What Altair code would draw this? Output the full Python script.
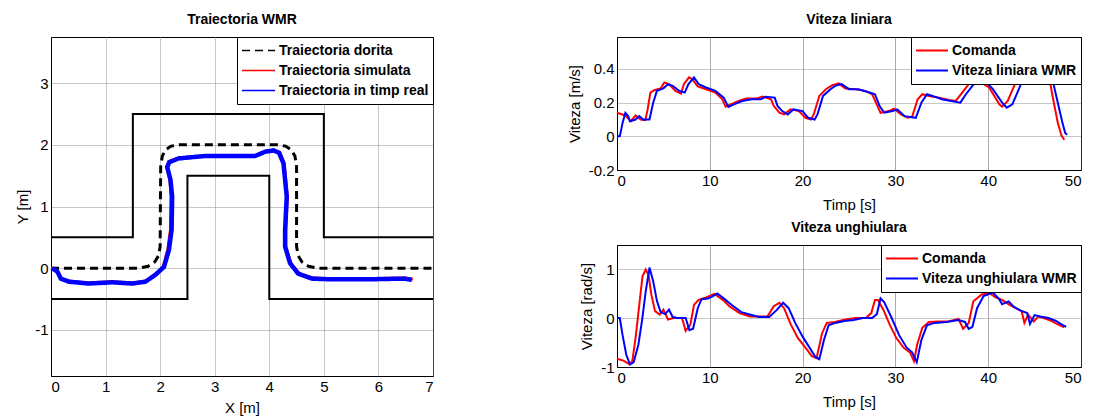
import altair as alt
import pandas as pd

FONT = "Liberation Sans"

# ---------------- Left panel: trajectories ----------------
outer_x = [0, 1.5, 1.5, 5.0, 5.0, 7.0]
outer_y = [0.5, 0.5, 2.5, 2.5, 0.5, 0.5]
inner_x = [0, 2.5, 2.5, 4.0, 4.0, 7.0]
inner_y = [-0.5, -0.5, 1.5, 1.5, -0.5, -0.5]

desired_x = [0, 1.6, 1.78, 1.9, 1.97, 2.0, 2.01, 2.04, 2.1, 2.2, 2.35, 4.15, 4.3, 4.4, 4.47, 4.5,
             4.5, 4.53, 4.6, 4.72, 4.9, 7.0]
desired_y = [0, 0, 0.03, 0.1, 0.2, 0.35, 1.65, 1.82, 1.92, 1.98, 2.0, 2.0, 1.98, 1.92, 1.82, 1.65,
             0.35, 0.2, 0.1, 0.03, 0, 0]

real_x = [0.02, 0.12, 0.18, 0.33, 0.69, 1.12, 1.49, 1.73, 1.91, 2.07, 2.16, 2.21, 2.22, 2.19, 2.13,
          2.17, 2.34, 2.83, 3.74, 3.93, 4.08, 4.18, 4.26, 4.32, 4.29, 4.29, 4.38, 4.53, 4.78, 5.08,
          5.87, 6.48, 6.61]
real_y = [0.0, -0.06, -0.17, -0.22, -0.25, -0.23, -0.25, -0.22, -0.11, 0.02, 0.29, 0.62, 1.16, 1.43,
          1.64, 1.72, 1.78, 1.82, 1.82, 1.89, 1.91, 1.87, 1.70, 1.16, 0.62, 0.35, 0.08, -0.09, -0.17,
          -0.18, -0.18, -0.17, -0.19]

sim_x = [0.0, 0.11, 0.17, 0.32, 0.68, 1.12, 1.49, 1.74, 1.92, 2.06, 2.14, 2.19, 2.2, 2.18, 2.12,
         2.16, 2.34, 2.83, 3.74, 3.93, 4.08, 4.19, 4.27, 4.33, 4.30, 4.30, 4.40, 4.55, 4.80, 5.08,
         5.87, 6.48, 6.63]
sim_y = [0.0, -0.05, -0.16, -0.21, -0.24, -0.22, -0.24, -0.21, -0.10, 0.03, 0.30, 0.62, 1.16, 1.43,
         1.64, 1.73, 1.79, 1.82, 1.82, 1.89, 1.91, 1.88, 1.70, 1.16, 0.62, 0.35, 0.07, -0.09, -0.16,
         -0.17, -0.17, -0.16, -0.18]

traj_names = ["Traiectoria dorita", "Traiectoria simulata", "Traiectoria in timp real"]

# ---------------- Right top: linear velocity ----------------
t_v_cmd = [0, 0.9, 1.5, 2.0, 2.55, 3.05, 3.3, 3.6, 4.0, 4.7, 5.1, 5.6, 6.3, 6.9, 7.2, 7.76, 8.1, 8.7,
           9.6, 10.6, 11.35, 11.7, 12.25, 13.1, 13.9, 15.0, 15.7, 16.6, 16.9, 17.5, 18.0, 18.7, 19.6,
           20.3, 20.9, 21.2, 21.8, 22.5, 23.2, 23.9, 24.6, 25.7, 26.8, 27.5, 27.9, 28.4, 29.3, 29.85,
           30.6, 31.3, 31.8, 32.4, 32.9, 33.6, 34.7, 35.8, 36.5, 37.2, 37.9, 39.0, 39.5, 40.1, 41.2,
           41.5, 42.1, 42.8, 43.1, 44.0, 45.0, 46.0, 46.6, 47.0, 47.5, 47.9, 48.2]
v_cmd = [0.14, 0.124, 0.09, 0.124, 0.10, 0.096, 0.16, 0.26, 0.274, 0.284, 0.32, 0.31, 0.27, 0.254,
         0.31, 0.35, 0.34, 0.296, 0.28, 0.26, 0.22, 0.176, 0.19, 0.21, 0.224, 0.224, 0.236, 0.22,
         0.18, 0.14, 0.13, 0.16, 0.15, 0.11, 0.10, 0.13, 0.24, 0.28, 0.304, 0.314, 0.284, 0.28, 0.27,
         0.25, 0.20, 0.14, 0.15, 0.164, 0.13, 0.11, 0.116, 0.22, 0.25, 0.24, 0.23, 0.216, 0.21, 0.26,
         0.31, 0.36, 0.31, 0.29, 0.19, 0.176, 0.21, 0.30, 0.34, 0.38, 0.42, 0.40, 0.34, 0.22, 0.08,
         0.004, -0.02]

t_v_wmr = [0, 0.3, 0.6, 0.9, 1.2, 1.4, 2.0, 2.4, 2.8, 3.5, 3.9, 4.3, 5.0, 5.5, 6.0, 6.7, 7.3, 7.7,
           8.3, 8.8, 9.6, 10.6, 11.5, 12.0, 12.6, 13.5, 14.5, 15.5, 16.0, 17.0, 17.3, 17.8, 18.4,
           19.0, 20.0, 20.6, 21.3, 21.6, 22.2, 23.0, 23.5, 24.2, 25.0, 26.0, 27.2, 27.8, 28.3, 28.8,
           29.7, 30.2, 31.0, 32.2, 32.8, 33.4, 34.0, 35.0, 36.0, 37.0, 37.6, 38.3, 39.2, 40.0, 40.5,
           41.5, 42.0, 42.6, 43.3, 43.6, 44.5, 45.5, 46.5, 47.0, 47.5, 48.0, 48.3, 48.5]
v_wmr = [0.0, 0.0, 0.08, 0.14, 0.12, 0.09, 0.10, 0.12, 0.10, 0.10, 0.20, 0.27, 0.285, 0.31, 0.30,
         0.27, 0.26, 0.31, 0.35, 0.31, 0.29, 0.27, 0.23, 0.175, 0.19, 0.21, 0.22, 0.22, 0.235, 0.23,
         0.18, 0.15, 0.13, 0.16, 0.15, 0.11, 0.10, 0.13, 0.24, 0.28, 0.30, 0.31, 0.28, 0.28, 0.26,
         0.25, 0.18, 0.14, 0.15, 0.16, 0.12, 0.11, 0.20, 0.25, 0.24, 0.22, 0.21, 0.20, 0.25, 0.30,
         0.36, 0.31, 0.28, 0.20, 0.17, 0.19, 0.28, 0.32, 0.39, 0.42, 0.39, 0.32, 0.20, 0.08, 0.02,
         0.01]

vlin_names = ["Comanda", "Viteza liniara WMR"]

# ---------------- Right bottom: angular velocity ----------------
t_w_cmd = [0, 0.7, 1.3, 1.65, 2.0, 2.4, 2.75, 3.1, 3.4, 3.7, 4.1, 4.6, 5.0, 5.5, 6.1, 7.0, 7.4,
           7.9, 8.3, 8.8, 9.6, 10.5, 11.4, 12.1, 13.2, 14.3, 15.4, 16.2, 16.9, 17.5, 18.0, 18.75,
           19.5, 20.2, 21.0, 21.5, 22.1, 22.6, 23.5, 24.6, 25.7, 26.8, 27.4, 27.8, 28.1, 28.7, 29.4,
           30.1, 30.9, 31.6, 32.0, 32.35, 32.9, 33.6, 34.6, 35.7, 36.8, 37.1, 37.3, 37.9, 38.4, 39.3,
           40.1, 40.8, 41.5, 42.3, 43.0, 43.6, 43.9, 44.3, 44.9, 45.4, 46.0, 46.7, 47.4, 48.2]
w_cmd = [-0.83, -0.87, -0.94, -0.88, -0.41, 0.27, 0.85, 0.99, 0.88, 0.48, 0.14, 0.07, 0.17, -0.03,
         0.0, 0.0, -0.26, -0.14, 0.27, 0.37, 0.42, 0.49, 0.37, 0.24, 0.10, 0.03, 0.03, 0.03, 0.24,
         0.31, 0.20, -0.14, -0.41, -0.58, -0.78, -0.82, -0.31, -0.10, -0.08, -0.03, 0.0, 0.0, 0.10,
         0.37, 0.37, 0.17, -0.14, -0.41, -0.61, -0.71, -0.88, -0.54, -0.20, -0.08, -0.07, -0.07,
         -0.02, -0.14, -0.22, -0.10, 0.34, 0.48, 0.51, 0.42, 0.37, 0.27, 0.20, 0.14, -0.10, 0.07,
         -0.07, 0.03, 0.0, -0.05, -0.12, -0.19]

t_w_wmr = [0, 0.3, 0.6, 1.0, 1.4, 1.8, 2.3, 2.7, 3.1, 3.5, 3.9, 4.3, 4.7, 5.2, 5.6, 6.0, 6.5, 7.4,
           7.8, 8.2, 8.7, 9.1, 9.8, 10.3, 10.8, 11.5, 12.4, 13.4, 14.3, 15.3, 16.4, 17.2, 17.9, 18.5,
           19.2, 20.0, 20.8, 21.4, 21.8, 22.3, 22.8, 23.5, 24.5, 25.5, 26.5, 27.5, 28.0, 28.4, 28.8,
           29.6, 30.4, 31.2, 31.8, 32.3, 32.8, 33.4, 34.2, 35.5, 36.8, 37.5, 37.9, 38.3, 38.8, 39.5,
           40.5, 41.2, 41.5, 42.2, 42.8, 43.5, 44.2, 44.5, 45.0, 45.6, 46.5, 47.3, 47.9, 48.4]
w_wmr = [0.0, 0.0, -0.35, -0.75, -0.95, -0.90, -0.55, -0.05, 0.55, 1.03, 0.75, 0.35, 0.12, 0.08,
         0.17, 0.02, 0.0, 0.0, -0.25, -0.22, 0.20, 0.38, 0.40, 0.44, 0.50, 0.40, 0.26, 0.12, 0.07,
         0.02, 0.02, 0.16, 0.31, 0.20, -0.10, -0.38, -0.62, -0.80, -0.84, -0.45, -0.15, -0.10, -0.06,
         -0.04, 0.0, 0.0, 0.08, 0.40, 0.32, 0.0, -0.35, -0.60, -0.70, -0.90, -0.45, -0.15, -0.10,
         -0.08, -0.04, -0.08, -0.22, -0.18, 0.20, 0.45, 0.52, 0.38, 0.28, 0.34, 0.22, 0.15, 0.10,
         -0.12, 0.06, 0.03, 0.0, -0.06, -0.13, -0.18]

vang_names = ["Comanda", "Viteza unghiulara WMR"]

# ---------------- helpers ----------------
def frame(xs, ys, **extra):
    df = pd.DataFrame({"x": xs, "y": ys})
    df["i"] = range(len(df))
    for k, v in extra.items():
        df[k] = v
    return df

bounds_df = pd.concat([frame(outer_x, outer_y, part="outer"),
                       frame(inner_x, inner_y, part="inner")])
des_df = frame(desired_x, desired_y, traj=traj_names[0])
sim_df = frame(sim_x, sim_y, traj=traj_names[1])
real_df = frame(real_x, real_y, traj=traj_names[2])

LBL = "replace(format(datum.value, '~g'), '\u2212', '-')"
grid_light = dict(gridColor="#8f8f8f", gridDash=[1, 1], gridOpacity=1, gridWidth=1)

xL = alt.X("x:Q", title="X [m]", scale=alt.Scale(domain=[0, 7], nice=False),
           axis=alt.Axis(values=list(range(0, 8)), labelExpr=LBL, titlePadding=6, **grid_light))
yL = alt.Y("y:Q", title="Y [m]", scale=alt.Scale(domain=[-1.75, 3.75], nice=False),
           axis=alt.Axis(values=[-1, 0, 1, 2, 3], labelExpr=LBL, titlePadding=4, **grid_light))

legL = alt.Legend(title=None, orient="top-right", offset=0, fillColor="white",
                  strokeColor="black", padding=4, rowPadding=1, clipHeight=19,
                  symbolType="stroke", symbolSize=1089, symbolStrokeWidth=1.3,
                  labelFont=FONT, labelFontSize=14, labelFontWeight="bold",
                  labelColor="black", labelOffset=3, labelLimit=400, cornerRadius=0)
colL = alt.Color("traj:N", scale=alt.Scale(domain=traj_names, range=["black", "red", "blue"]),
                 legend=legL)
dashL = alt.StrokeDash("traj:N", scale=alt.Scale(domain=traj_names,
                       range=[[8, 5], [1, 0], [1, 0]]), legend=legL)

b_layer = alt.Chart(bounds_df).mark_line(color="black", strokeWidth=2).encode(
    x=xL, y=yL, detail="part:N", order="i:Q")
traj_layers = [
    alt.Chart(d).mark_line(strokeWidth=w).encode(x=xL, y=yL, color=colL, strokeDash=dashL,
                                                 order="i:Q")
    for d, w in ((des_df, 3), (sim_df, 3), (real_df, 4.5))
]
left = alt.layer(b_layer, *traj_layers).properties(
    width=382, height=339, title="Traiectoria WMR")


def vel_panel(t1, v1, t2, v2, names, field, ytitle, ydom, yvals, height, title):
    d1 = pd.DataFrame({"t": t1, "v": v1, field: names[0]})
    d2 = pd.DataFrame({"t": t2, "v": v2, field: names[1]})
    x = alt.X("t:Q", title="Timp [s]", scale=alt.Scale(domain=[0, 50], nice=False),
              axis=alt.Axis(values=[0, 10, 20, 30, 40, 50], labelExpr=LBL, titlePadding=9,
                            gridColor="#555555", gridDash=[1, 1], gridOpacity=1))
    y = alt.Y("v:Q", title=ytitle, scale=alt.Scale(domain=ydom, nice=False),
              axis=alt.Axis(values=yvals, labelExpr=LBL, titlePadding=6, **grid_light))
    leg = alt.Legend(title=None, orient="top-right", offset=0, fillColor="white",
                     strokeColor="black", padding=4, rowPadding=1, clipHeight=19,
                     symbolType="stroke", symbolSize=1024, symbolStrokeWidth=2,
                     labelFont=FONT, labelFontSize=14, labelFontWeight="bold",
                     labelColor="black", labelOffset=3, labelLimit=400, cornerRadius=0)
    col = alt.Color(f"{field}:N", scale=alt.Scale(domain=names, range=["red", "blue"]),
                    legend=leg)
    l1 = alt.Chart(d1).mark_line(strokeWidth=2).encode(x=x, y=y, color=col)
    l2 = alt.Chart(d2).mark_line(strokeWidth=2).encode(x=x, y=y, color=col)
    return alt.layer(l1, l2).properties(width=464, height=height, title=title)


top = vel_panel(t_v_cmd, v_cmd, t_v_wmr, v_wmr, vlin_names, "vlin", "Viteza [m/s]",
                [-0.2, 0.59], [-0.2, 0, 0.2, 0.4], 133, "Viteza liniara")
bottom = vel_panel(t_w_cmd, w_cmd, t_w_wmr, w_wmr, vang_names, "vang", "Viteza [rad/s]",
                   [-1, 1.49], [-1, 0, 1], 122, "Viteza unghiulara")

right = alt.vconcat(top, bottom, spacing=75, bounds="flush").resolve_scale(
    color="independent")

chart = alt.hconcat(left, right, spacing=184, bounds="flush").resolve_scale(
    color="independent", strokeDash="independent"
).properties(
    padding={"left": 7, "top": 4, "right": 2, "bottom": 0}
).configure_axis(
    labelFont=FONT, labelFontSize=15, labelColor="black", labelPadding=3,
    titleFont=FONT, titleFontSize=15, titleFontWeight="normal", titleColor="black",
    domainColor="black", ticks=False
).configure_view(
    stroke="black", strokeWidth=1
).configure_title(
    font=FONT, fontSize=14, fontWeight="bold", color="black", offset=10
).configure_legend(
    symbolType="stroke"
)

chart.save("out.html", embed_options={"renderer": "svg", "actions": False})
